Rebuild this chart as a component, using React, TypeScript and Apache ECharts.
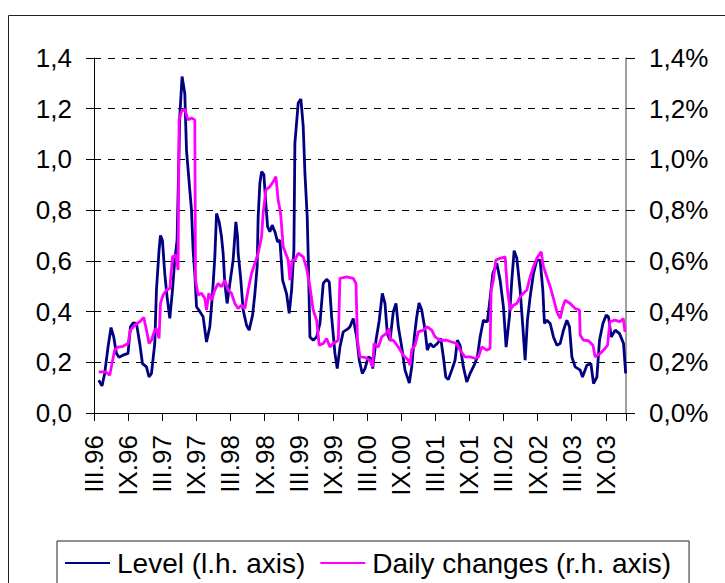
import React, { useEffect, useRef } from "react";
import * as echarts from "echarts";

// x positions in half-year steps since March 1996 (0 = III.96, 1 = IX.96, ...)
const tickLabels = [
  "III.96", "IX.96", "III.97", "IX.97", "III.98", "IX.98", "III.99", "IX.99",
  "III.00", "IX.00", "III.01", "IX.01", "III.02", "IX.02", "III.03", "IX.03",
];

const levelT = [
  0.138, 0.235, 0.314, 0.411, 0.499, 0.578, 0.657, 0.733, 0.851, 0.997, 1.068, 1.144, 1.244, 1.341, 1.42, 1.537,
  1.613, 1.684, 1.781, 1.83, 1.907, 1.948, 2.006, 2.074, 2.141, 2.221, 2.3, 2.367, 2.435, 2.514, 2.581, 2.661,
  2.71, 2.807, 2.857, 2.904, 2.954, 3.004, 3.101, 3.197, 3.297, 3.394, 3.473, 3.541, 3.591, 3.667, 3.737, 3.784,
  3.834, 3.901, 3.981, 4.077, 4.157, 4.207, 4.224, 4.295, 4.371, 4.471, 4.547, 4.647, 4.714, 4.781, 4.811, 4.861,
  4.911, 4.978, 5.028, 5.087, 5.154, 5.221, 5.301, 5.38, 5.447, 5.527, 5.644, 5.72, 5.791, 5.858, 5.887, 5.984,
  6.063, 6.131, 6.181, 6.248, 6.278, 6.328, 6.424, 6.524, 6.621, 6.718, 6.817, 6.894, 6.964, 7.061, 7.128, 7.207,
  7.304, 7.451, 7.501, 7.598, 7.697, 7.774, 7.862, 7.941, 8.038, 8.117, 8.167, 8.264, 8.36, 8.448, 8.527, 8.595,
  8.674, 8.771, 8.85, 8.918, 9.017, 9.114, 9.24, 9.311, 9.387, 9.457, 9.525, 9.604, 9.701, 9.768, 9.848, 9.944,
  10.062, 10.161, 10.238, 10.308, 10.384, 10.484, 10.581, 10.648, 10.727, 10.824, 10.924, 11.021, 11.138, 11.235, 11.314, 11.411,
  11.528, 11.607, 11.687, 11.804, 11.901, 11.998, 12.077, 12.174, 12.244, 12.312, 12.391, 12.488, 12.567, 12.634, 12.702, 12.781,
  12.878, 12.977, 13.074, 13.153, 13.2, 13.271, 13.368, 13.464, 13.564, 13.661, 13.758, 13.857, 13.934, 14.004, 14.101, 14.248,
  14.315, 14.444, 14.561, 14.638, 14.737, 14.814, 14.913, 15.01, 15.078, 15.157, 15.274, 15.4, 15.518, 15.58,
];
const levelV = [
  0.129, 0.107, 0.157, 0.26, 0.337, 0.3, 0.235, 0.22, 0.228, 0.235, 0.34, 0.355, 0.353, 0.274, 0.195, 0.182,
  0.142, 0.156, 0.274, 0.485, 0.643, 0.7, 0.68, 0.55, 0.458, 0.373, 0.485, 0.603, 0.682, 1.17, 1.327, 1.26,
  1.037, 0.88, 0.8, 0.643, 0.55, 0.419, 0.4, 0.38, 0.28, 0.34, 0.47, 0.616, 0.787, 0.754, 0.695, 0.63,
  0.51, 0.432, 0.51, 0.603, 0.754, 0.695, 0.63, 0.537, 0.406, 0.346, 0.327, 0.386, 0.47, 0.577, 0.774, 0.906,
  0.952, 0.94, 0.84, 0.735, 0.715, 0.741, 0.715, 0.675, 0.682, 0.524, 0.47, 0.393, 0.485, 0.643, 1.064, 1.222,
  1.238, 1.13, 0.946, 0.774, 0.616, 0.3, 0.287, 0.3, 0.353, 0.511, 0.527, 0.517, 0.379, 0.235, 0.175, 0.26,
  0.32, 0.333, 0.34, 0.373, 0.3, 0.208, 0.156, 0.175, 0.221, 0.215, 0.175, 0.287, 0.366, 0.472, 0.432, 0.313,
  0.287, 0.4, 0.432, 0.34, 0.26, 0.169, 0.118, 0.182, 0.3, 0.379, 0.434, 0.406, 0.327, 0.248, 0.274, 0.26,
  0.274, 0.294, 0.221, 0.142, 0.132, 0.169, 0.208, 0.287, 0.267, 0.182, 0.122, 0.156, 0.188, 0.221, 0.3, 0.366,
  0.36, 0.452, 0.55, 0.59, 0.524, 0.419, 0.26, 0.379, 0.524, 0.64, 0.61, 0.485, 0.34, 0.208, 0.366, 0.458,
  0.55, 0.603, 0.603, 0.485, 0.353, 0.366, 0.353, 0.3, 0.267, 0.274, 0.327, 0.366, 0.34, 0.221, 0.182, 0.169,
  0.142, 0.188, 0.195, 0.116, 0.142, 0.287, 0.353, 0.386, 0.379, 0.3, 0.327, 0.313, 0.274, 0.156,
];

const changeT = [
  0.138, 0.343, 0.461, 0.528, 0.607, 0.704, 0.851, 0.997, 1.068, 1.194, 1.341, 1.458, 1.537, 1.613, 1.684, 1.781,
  1.83, 1.907, 1.948, 2.024, 2.124, 2.221, 2.3, 2.397, 2.464, 2.493, 2.564, 2.661, 2.757, 2.857, 2.954, 2.974,
  3.051, 3.15, 3.247, 3.297, 3.365, 3.444, 3.541, 3.637, 3.737, 3.834, 3.931, 4.03, 4.127, 4.224, 4.324, 4.421,
  4.517, 4.617, 4.714, 4.811, 4.911, 4.957, 5.037, 5.154, 5.251, 5.33, 5.397, 5.468, 5.544, 5.691, 5.741, 5.808,
  5.887, 5.984, 6.131, 6.231, 6.328, 6.424, 6.524, 6.6, 6.718, 6.817, 6.914, 7.011, 7.158, 7.207, 7.404, 7.598,
  7.677, 7.721, 7.794, 7.941, 8.088, 8.167, 8.205, 8.331, 8.431, 8.557, 8.654, 8.674, 8.771, 8.918, 9.064, 9.211,
  9.261, 9.311, 9.408, 9.504, 9.651, 9.768, 9.897, 9.994, 10.141, 10.337, 10.484, 10.631, 10.727, 10.874, 11.021, 11.168,
  11.264, 11.364, 11.511, 11.607, 11.637, 11.704, 11.775, 11.901, 12.048, 12.116, 12.195, 12.291, 12.391, 12.488, 12.584, 12.684,
  12.781, 12.878, 12.977, 13.103, 13.171, 13.271, 13.368, 13.464, 13.564, 13.661, 13.74, 13.808, 13.955, 14.101, 14.227, 14.248,
  14.344, 14.491, 14.62, 14.688, 14.834, 14.931, 15.048, 15.118, 15.264, 15.411, 15.51, 15.56,
];
const changeV = [
  0.162, 0.162, 0.149, 0.195, 0.248, 0.26, 0.263, 0.274, 0.327, 0.346, 0.36, 0.377, 0.327, 0.274, 0.287, 0.327,
  0.333, 0.294, 0.432, 0.465, 0.485, 0.491, 0.616, 0.623, 0.564, 1.156, 1.189, 1.198, 1.156, 1.163, 1.156, 0.524,
  0.465, 0.472, 0.452, 0.406, 0.472, 0.445, 0.485, 0.511, 0.498, 0.524, 0.485, 0.472, 0.432, 0.412, 0.425, 0.412,
  0.485, 0.55, 0.59, 0.63, 0.695, 0.787, 0.88, 0.893, 0.912, 0.932, 0.84, 0.787, 0.656, 0.603, 0.524, 0.603,
  0.603, 0.63, 0.616, 0.57, 0.498, 0.406, 0.366, 0.267, 0.274, 0.294, 0.26, 0.274, 0.287, 0.531, 0.537, 0.531,
  0.511, 0.287, 0.221, 0.219, 0.208, 0.182, 0.274, 0.26, 0.3, 0.313, 0.333, 0.287, 0.287, 0.26, 0.228, 0.208,
  0.188, 0.25, 0.267, 0.32, 0.327, 0.34, 0.327, 0.3, 0.287, 0.287, 0.28, 0.274, 0.248, 0.221, 0.221, 0.215,
  0.221, 0.26, 0.248, 0.254, 0.485, 0.524, 0.603, 0.61, 0.616, 0.485, 0.406, 0.425, 0.432, 0.458, 0.472, 0.485,
  0.537, 0.577, 0.61, 0.636, 0.577, 0.537, 0.498, 0.452, 0.4, 0.373, 0.419, 0.445, 0.432, 0.412, 0.406, 0.307,
  0.287, 0.285, 0.267, 0.221, 0.235, 0.248, 0.267, 0.36, 0.366, 0.36, 0.373, 0.32,
];

const FONT = "'Liberation Sans', Arial, sans-serif";

export default function App() {
  const ref = useRef<HTMLDivElement>(null);
  useEffect(() => {
    if (!ref.current) return;
    const chart = echarts.init(ref.current, undefined, { renderer: "svg" });
    const fmt = (v: number) => v.toFixed(1).replace(".", ",");
    chart.setOption({
      animation: false,
      backgroundColor: "#fff",
      graphic: [
        {
          type: "rect",
          shape: { x: 8.5, y: 15.5, width: 900, height: 900 },
          style: { fill: "none", stroke: "#222", lineWidth: 1 },
          silent: true,
          z: -1,
        },
      ],
      grid: { left: 94, right: 99, top: 58, bottom: 170, containLabel: false },
      legend: {
        left: 57,
        top: 541,
        padding: [8, 18, 8, 8],
        borderColor: "#222",
        borderWidth: 1,
        itemWidth: 45,
        itemHeight: 2,
        itemGap: 15,
        icon: "rect",
        textStyle: { fontFamily: FONT, fontSize: 28, color: "#000", padding: [0, 0, 0, 2] },
        data: ["Level (l.h. axis)", "Daily changes (r.h. axis)"],
      },
      xAxis: {
        type: "value",
        min: 0,
        max: 15.59,
        interval: 1,
        axisLine: { show: true, lineStyle: { color: "#000", width: 1 } },
        axisTick: { show: true, inside: false, length: 8, lineStyle: { color: "#000" } },
        splitLine: { show: false },
        axisLabel: {
          rotate: 90,
          margin: 22,
          fontFamily: FONT,
          fontSize: 26,
          color: "#000",
          formatter: (v: number) => {
            const i = Math.round(v);
            return Math.abs(v - i) < 1e-6 && i < tickLabels.length ? tickLabels[i] : "";
          },
        },
      },
      yAxis: [
        {
          type: "value",
          min: 0,
          max: 1.4,
          interval: 0.2,
          position: "left",
          axisLine: { show: true, lineStyle: { color: "#000", width: 1 } },
          axisTick: { show: true, inside: false, length: 8, lineStyle: { color: "#000" } },
          splitLine: { show: true, lineStyle: { color: "#000", width: 1, type: [7, 7] } },
          axisLabel: { margin: 22, fontFamily: FONT, fontSize: 26, color: "#000", formatter: fmt },
        },
        {
          type: "value",
          min: 0,
          max: 1.4,
          interval: 0.2,
          position: "right",
          axisLine: { show: true, lineStyle: { color: "#808080", width: 1.5 } },
          axisTick: { show: true, inside: false, length: 9, lineStyle: { color: "#000" } },
          splitLine: { show: false },
          axisLabel: {
            margin: 23,
            fontFamily: FONT,
            fontSize: 26,
            color: "#000",
            formatter: (v: number) => fmt(v) + "%",
          },
        },
      ],
      series: [
        {
          name: "Level (l.h. axis)",
          type: "line",
          yAxisIndex: 0,
          showSymbol: false,
          symbol: "none",
          color: "#000080",
          lineStyle: { color: "#000080", width: 2.8 },
          data: levelT.map((t, i) => [t, levelV[i]]),
          z: 2,
        },
        {
          name: "Daily changes (r.h. axis)",
          type: "line",
          yAxisIndex: 1,
          showSymbol: false,
          symbol: "none",
          color: "#FF00FF",
          lineStyle: { color: "#FF00FF", width: 2.8 },
          data: changeT.map((t, i) => [t, changeV[i]]),
          z: 3,
        },
      ],
    });
    return () => chart.dispose();
  }, []);
  return (
    <div
      ref={ref}
      style={{ position: "fixed", left: 0, top: 0, width: 725, height: 583, background: "#fff" }}
    />
  );
}
